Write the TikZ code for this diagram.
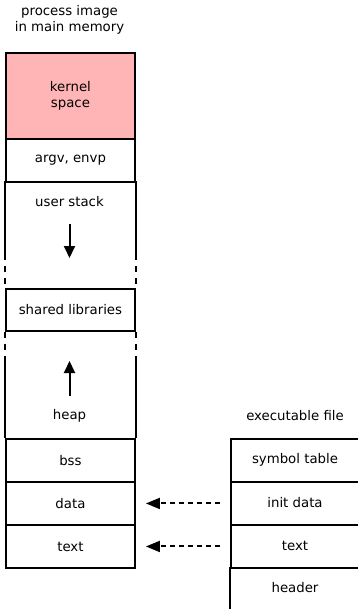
\documentclass[tikz,border=0pt]{standalone}
\usepackage{fontspec}
\setmainfont{DejaVu Sans}
\usetikzlibrary{arrows.meta}
\definecolor{kpink}{RGB}{255,181,181}
\begin{document}
\begin{tikzpicture}[x=1pt,y=-1pt,line width=1.9pt,
  font=\fontsize{13.3}{16}\selectfont,
  cell/.style={rectangle,inner sep=0pt,anchor=north west,minimum width=129pt,align=center},
  bcell/.style={cell,draw},
  lbl/.style={inner sep=0pt,align=center},
  flow/.style={line width=2pt,-{Triangle[length=12pt,width=11pt]}},
  load/.style={line width=2pt,dash pattern=on 5pt off 4pt,-{Triangle[length=14pt,width=11pt]}}]
\useasboundingbox (0,0) rectangle (357,609);

% titles
\node[lbl] (title) at (69.5,20) {process image\\in main memory};
\node[lbl] (exetitle) at (295,416) {executable file};

% left column
\node[bcell,fill=kpink,minimum height=86pt] (kernel) at (5,52) {kernel\\space};
\node[bcell,minimum height=43pt] (argv) at (5,138) {argv, envp};
\node[cell,minimum height=107pt] (ustack) at (5,181) {};
\node[bcell,minimum height=42pt] (shared) at (5,288) {shared libraries};
\node[cell,minimum height=108pt] (heap) at (5,330) {};
\node[bcell,minimum height=43pt] (bss) at (5,438) {bss};
\node[bcell,minimum height=43pt] (data) at (5,481) {data};
\node[bcell,minimum height=43pt] (text) at (5,524) {text};

% user stack region sides
\draw (ustack.north west) -- ++(0,73) coordinate (uswl);
\draw (ustack.north east) -- ++(0,73) coordinate (usel);
\draw[dash pattern=on 6pt off 6pt] (uswl) -- (shared.north west);
\draw[dash pattern=on 6pt off 6pt] (usel) -- (shared.north east);
% heap region sides
\draw[dash pattern=on 6pt off 6pt] (shared.south west) -- ++(0,28) coordinate (hpwl);
\draw[dash pattern=on 6pt off 6pt] (shared.south east) -- ++(0,28) coordinate (hpel);
\draw (hpwl) -- (bss.north west);
\draw (hpel) -- (bss.north east);

\node[lbl] (uslbl) at (69.5,202) {user stack};
\node[lbl] (hplbl) at (69.5,416) {heap};
\coordinate (usa1) at (69.5,224);
\coordinate (usa2) at (69.5,258);
\coordinate (hpa1) at (69.5,396);
\coordinate (hpa2) at (69.5,361);
\draw[flow] (usa1) -- (usa2);
\draw[flow] (hpa1) -- (hpa2);

% right column (executable file)
\node[bcell,minimum height=43pt,minimum width=140pt] (symtab) at (230,438) {};
\node[bcell,minimum height=43pt,minimum width=140pt] (init) at (230,481) {};
\node[bcell,minimum height=43pt,minimum width=140pt] (etext) at (230,524) {};
\node[cell,minimum height=50pt,minimum width=140pt] (header) at (230,567) {};
\draw (header.north west) -- (header.south west);
\node[lbl] at (295,459.5) {symbol table};
\node[lbl] at (295,502.5) {init data};
\node[lbl] at (295,545.5) {text};
\node[lbl] at (295,588) {header};

% loading arrows
\draw[load] ([xshift=-10pt]init.west) -- ([xshift=10pt]data.east);
\draw[load] ([xshift=-10pt]etext.west) -- ([xshift=10pt]text.east);
\end{tikzpicture}
\end{document}
